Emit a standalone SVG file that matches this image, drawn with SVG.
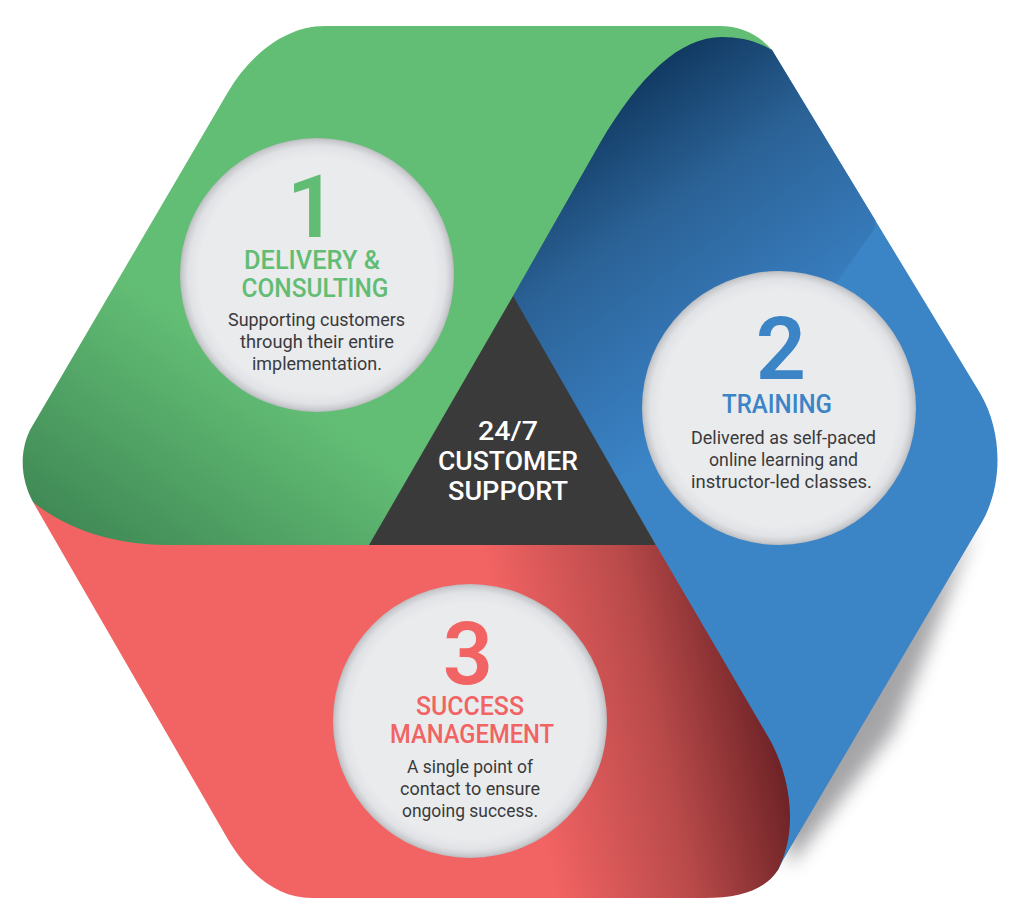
<svg xmlns="http://www.w3.org/2000/svg" width="1024" height="920" viewBox="0 0 1024 920">
<style>
text{font-family:"Roboto","Liberation Sans",sans-serif;text-anchor:middle}
.num{font-size:88px;font-weight:600}
.tt{font-size:26px;font-weight:500}
.bd{font-size:17.5px;font-weight:400;fill:#3a3a3c}
.g{fill:#62bd74}.b{fill:#3b84c6}.r{fill:#f26363}
.c{font-size:26px;font-weight:500;fill:#fff}
.disc{fill:url(#disc)}
</style>
<defs>
<linearGradient id="gGreen" gradientUnits="userSpaceOnUse" x1="40" y1="520" x2="183" y2="315">
<stop offset="0" stop-color="#3f8855"/><stop offset="1" stop-color="#63be75"/>
</linearGradient>
<linearGradient id="gBlue" gradientUnits="userSpaceOnUse" x1="700" y1="40" x2="882" y2="302">
<stop offset="0" stop-color="#123b64"/><stop offset=".37" stop-color="#2b6296"/><stop offset=".8" stop-color="#3679b9"/><stop offset="1" stop-color="#3b84c6"/>
</linearGradient>
<linearGradient id="gRed" gradientUnits="userSpaceOnUse" x1="530" y1="770" x2="792" y2="715">
<stop offset="0" stop-color="#f26363"/><stop offset=".5" stop-color="#b94a4a"/><stop offset="1" stop-color="#611c20"/>
</linearGradient>
<radialGradient id="disc">
<stop offset="0" stop-color="#e9ebed"/><stop offset=".86" stop-color="#e9ebed"/><stop offset=".94" stop-color="#e0e2e5"/><stop offset=".98" stop-color="#cbcdd0"/><stop offset="1" stop-color="#babcbf"/>
</radialGradient>
<filter id="blur" x="-30%" y="-30%" width="160%" height="160%"><feGaussianBlur stdDeviation="9"/></filter>
<clipPath id="blueCut"><polygon points="875,228 820,306 780,400 780,700 400,700 400,0 900,0"/></clipPath>
<path id="blueShape" d="M772,50C757,40 740,36 722,36C680,36 639,74 599,142L512,296L656,545L700,700L778,870L783,860L982,522C1003,485 1003,432 980,393Z"/>
</defs>
<g id="shadow"><path d="M975,525L925,655L893,732L790,866L780,800Z" fill="#6e6d72" opacity=".62" filter="url(#blur)"/></g>
<g id="segment-blue">
<use href="#blueShape" fill="#3b84c6"/>
<use href="#blueShape" fill="url(#gBlue)" clip-path="url(#blueCut)"/>
</g>
<g id="segment-red"><path d="M33,502L226,836C246,871 275,898 312,898L705,898C740,898 765,890 778,870C785,855 790,840 790,817C790,795 785,768 770,740L656,545L100,500Z" fill="url(#gRed)"/></g>
<g id="segment-green"><path d="M772,50C758,34 740,26 720,26L325,26C285,26 250,55 228,92L30,430C18,455 22,482 33,502C55,520 100,545 167,545L440,545L513,310L513,296L600,143C640,75 680,37 722,37C740,37 757,41 772,50Z" fill="url(#gGreen)"/></g>
<g id="center"><polygon points="513,296 656,545 369,545" fill="#3a3a3a"/>
<text class="c" x="508" y="440" textLength="60" lengthAdjust="spacingAndGlyphs">24/7</text>
<text class="c" x="508" y="470" textLength="140" lengthAdjust="spacingAndGlyphs">CUSTOMER</text>
<text class="c" x="508" y="500" textLength="120" lengthAdjust="spacingAndGlyphs">SUPPORT</text></g>
<g id="node-1"><circle class="disc" cx="317" cy="275" r="137"/>
<text class="num g" x="312" y="237">1</text>
<text class="tt g" x="312" y="269" textLength="136" lengthAdjust="spacingAndGlyphs">DELIVERY &amp;</text>
<text class="tt g" x="315" y="297" textLength="147" lengthAdjust="spacingAndGlyphs">CONSULTING</text>
<text class="bd" x="316.500" y="326" textLength="177" lengthAdjust="spacingAndGlyphs">Supporting customers</text>
<text class="bd" x="317" y="348" textLength="154" lengthAdjust="spacingAndGlyphs">through their entire</text>
<text class="bd" x="317" y="370" textLength="130" lengthAdjust="spacingAndGlyphs">implementation.</text></g>
<g id="node-2"><circle class="disc" cx="779" cy="408" r="137"/>
<text class="num b" x="781" y="379">2</text>
<text class="tt b" x="777" y="413" textLength="110" lengthAdjust="spacingAndGlyphs">TRAINING</text>
<text class="bd" x="783.500" y="444" textLength="185" lengthAdjust="spacingAndGlyphs">Delivered as self-paced</text>
<text class="bd" x="783.500" y="466" textLength="149" lengthAdjust="spacingAndGlyphs">online learning and</text>
<text class="bd" x="781.500" y="488" textLength="181" lengthAdjust="spacingAndGlyphs">instructor-led classes.</text></g>
<g id="node-3"><circle class="disc" cx="470" cy="721" r="137"/>
<text class="num r" x="468" y="684">3</text>
<text class="tt r" x="470" y="715" textLength="108" lengthAdjust="spacingAndGlyphs">SUCCESS</text>
<text class="tt r" x="472" y="743" textLength="164" lengthAdjust="spacingAndGlyphs">MANAGEMENT</text>
<text class="bd" x="470" y="773" textLength="126" lengthAdjust="spacingAndGlyphs">A single point of</text>
<text class="bd" x="470" y="795" textLength="140" lengthAdjust="spacingAndGlyphs">contact to ensure</text>
<text class="bd" x="470" y="817" textLength="136" lengthAdjust="spacingAndGlyphs">ongoing success.</text></g>
</svg>
